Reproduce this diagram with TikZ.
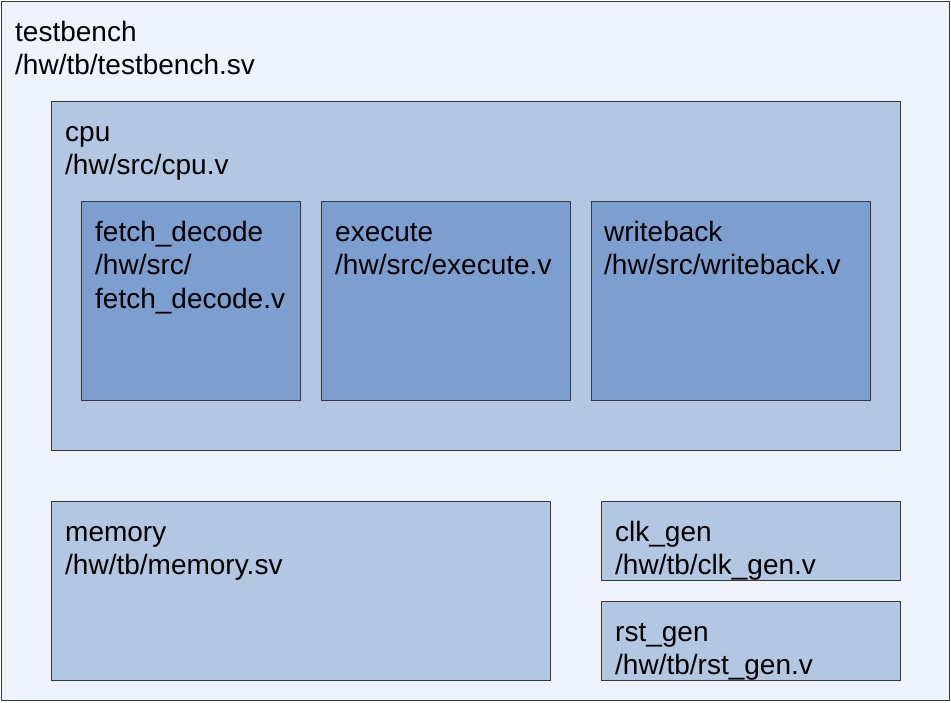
\documentclass[tikz,border=0pt]{standalone}
\usepackage{fontspec}
\setmainfont{Liberation Sans}
\begin{document}
\begin{tikzpicture}[x=1pt,y=-1pt]
\definecolor{c0}{HTML}{EEF2FA}
\definecolor{c1}{HTML}{B3C6E2}
\definecolor{c2}{HTML}{7C9FD0}
\definecolor{bordc}{HTML}{383838}
\tikzset{
  blk/.style={draw=bordc, line width=1pt, anchor=north west, inner sep=0pt, outer sep=0pt},
  lvlzero/.style={blk, fill=c0},
  lvlone/.style={blk, fill=c1},
  lvltwo/.style={blk, fill=c2},
  lbl/.style={anchor=north west, inner sep=0pt, align=left, font=\fontsize{28}{33.5}\selectfont}
}
\useasboundingbox (0,0) rectangle (951,702);
\node[lvlzero, minimum width=948pt, minimum height=699pt] (tb) at (1,1) {};
\node[lvlone, minimum width=849pt, minimum height=349pt] (cpu) at (51,101) {};
\node[lvltwo, minimum width=219pt, minimum height=199pt] (fd) at (81,201) {};
\node[lvltwo, minimum width=249pt, minimum height=199pt] (ex) at (321,201) {};
\node[lvltwo, minimum width=279pt, minimum height=199pt] (wb) at (591,201) {};
\node[lvlone, minimum width=499pt, minimum height=179pt] (mem) at (51,501) {};
\node[lvlone, minimum width=299pt, minimum height=79pt] (clk) at (601,501) {};
\node[lvlone, minimum width=299pt, minimum height=79pt] (rst) at (601,601) {};
\node[lbl] (tbL) at ([shift={(14,19)}]tb.north west) {\rule{0pt}{21pt}testbench\\/hw/tb/testbench.sv};
\node[lbl] (cpuL) at ([shift={(14,19)}]cpu.north west) {\rule{0pt}{21pt}cpu\\/hw/src/cpu.v};
\node[lbl] (fdL) at ([shift={(14,19)}]fd.north west) {\rule{0pt}{21pt}fetch\_decode\\/hw/src/\\fetch\_decode.v};
\node[lbl] (exL) at ([shift={(14,19)}]ex.north west) {\rule{0pt}{21pt}execute\\/hw/src/execute.v};
\node[lbl] (wbL) at ([shift={(13,19)}]wb.north west) {\rule{0pt}{21pt}writeback\\/hw/src/writeback.v};
\node[lbl] (memL) at ([shift={(14,19)}]mem.north west) {\rule{0pt}{21pt}memory\\/hw/tb/memory.sv};
\node[lbl] (clkL) at ([shift={(14,19)}]clk.north west) {\rule{0pt}{21pt}clk\_gen\\/hw/tb/clk\_gen.v};
\node[lbl] (rstL) at ([shift={(14,19)}]rst.north west) {\rule{0pt}{21pt}rst\_gen\\/hw/tb/rst\_gen.v};
\end{tikzpicture}
\end{document}
